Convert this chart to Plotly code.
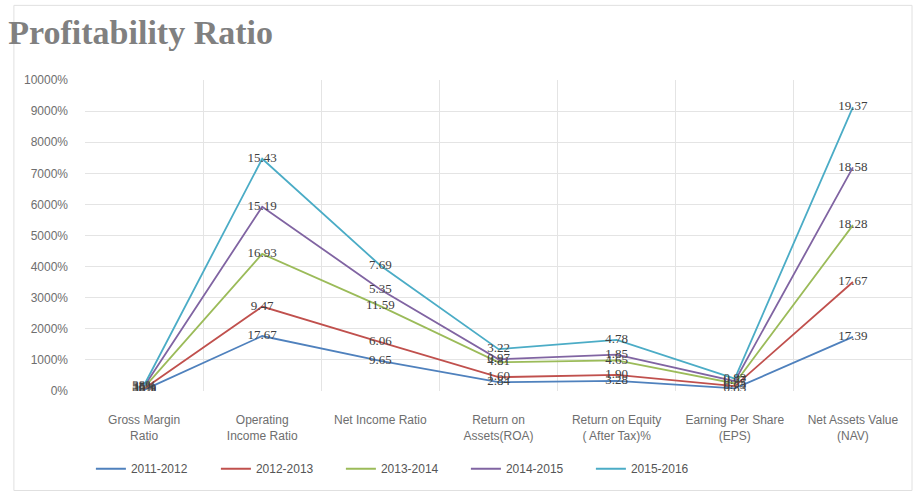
import numpy as np
import plotly.graph_objects as go

categories = [
    "Gross Margin<br>Ratio",
    "Operating<br>Income Ratio",
    "Net Income Ratio",
    "Return on<br>Assets(ROA)",
    "Return on Equity<br>( After Tax)%",
    "Earning Per Share<br>(EPS)",
    "Net Assets Value<br>(NAV)",
]

years = ["2011-2012", "2012-2013", "2013-2014", "2014-2015", "2015-2016"]

# Yearly ratio values (gross margin ratio is a fraction, shown as percent)
values_2011_2012 = [0.38, 17.67, 9.65, 2.84, 3.28, 0.83, 17.39]
values_2012_2013 = [0.36, 9.47, 6.06, 1.60, 1.90, 0.73, 17.67]
values_2013_2014 = [0.35, 16.93, 11.59, 4.81, 4.65, 0.85, 18.28]
values_2014_2015 = [0.38, 15.19, 5.35, 0.97, 1.85, 0.77, 18.58]
values_2015_2016 = [0.38, 15.43, 7.69, 3.22, 4.78, 0.83, 19.37]

series_values = [values_2011_2012, values_2012_2013, values_2013_2014,
                 values_2014_2015, values_2015_2016]
colors = ["#4F81BD", "#C0504D", "#9BBB59", "#8064A2", "#4BACC6"]

y_tickvals = list(range(0, 101, 10))
y_ticktext = [f"{v * 100}%" for v in y_tickvals]


def label(i, v):
    return f"{v:.0%}" if i == 0 else f"{v:.2f}"


x = list(range(len(categories)))

fig = go.Figure()
for name, vals, col in zip(years, series_values, colors):
    fig.add_trace(go.Scatter(
        x=x, y=vals, name=name,
        stackgroup="one", fill="none",
        mode="lines+text",
        line=dict(color=col, width=1.8),
        text=[label(i, v) for i, v in enumerate(vals)],
        textposition="middle center",
        textfont=dict(family="Liberation Serif", size=13, color="#404040"),
        hoverinfo="name+text",
    ))

fig.update_layout(
    width=920, height=493,
    margin=dict(l=85, r=8, t=80, b=102),
    paper_bgcolor="white", plot_bgcolor="white",
    title=dict(text="<b>Profitability Ratio</b>", x=0.009, xanchor="left",
               y=0.935, yanchor="middle",
               font=dict(family="Liberation Serif", size=34, color="#808080")),
    xaxis=dict(
        range=[-0.5, 6.5], tickmode="array", tickvals=x, ticktext=categories,
        showgrid=False, zeroline=False, showline=False, ticks="",
        ticklabelstandoff=20,
        tickfont=dict(family="Liberation Sans Narrow, Liberation Sans", size=12, color="#6e6e6e"),
        minor=dict(tickmode="array", tickvals=[k + 0.5 for k in range(-1, 7)],
                   showgrid=True, gridcolor="#e4e4e4", gridwidth=1),
    ),
    yaxis=dict(
        range=[0, 100], tickmode="array", tickvals=y_tickvals, ticktext=y_ticktext,
        showgrid=True, gridcolor="#e4e4e4", gridwidth=1, zeroline=False,
        showline=False, ticks="", ticklabelstandoff=16,
        tickfont=dict(family="Liberation Sans Narrow, Liberation Sans", size=12, color="#6e6e6e"),
    ),
    legend=dict(orientation="h", x=0.385, xanchor="center", y=-0.25, yanchor="middle",
                font=dict(family="Liberation Sans Narrow, Liberation Sans", size=12, color="#555555"),
                entrywidth=80, entrywidthmode="pixels", itemwidth=30, tracegroupgap=0),
    showlegend=True,
    shapes=[dict(type="rect", xref="paper", yref="paper", x0=-0.086, x1=1.0, y0=-0.32, y1=1.24,
                 line=dict(color="#e0e0e0", width=1), fillcolor="rgba(0,0,0,0)")],
)

fig.write_html("out.html")
